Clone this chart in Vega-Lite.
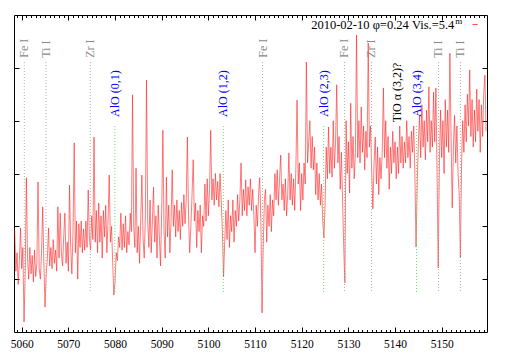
{
  "$schema": "https://vega.github.io/schema/vega-lite/v6.json",
  "width": 473,
  "height": 317,
  "autosize": {"type": "none"},
  "padding": {"left": 14, "top": 15, "right": 22, "bottom": 24},
  "background": "white",
  "config": {
    "view": {"stroke": "#000000", "strokeWidth": 1},
    "font": "Liberation Serif",
    "axis": {"grid": false, "domain": false, "title": null, "tickColor": "#000000", "labelColor": "#000000", "labelFont": "Liberation Serif"}
  },
  "datasets": {
    "spec": [
      {"wl":5058.5,"flux":1.93},{"wl":5058.75,"flux":1.15},{"wl":5059,"flux":1.5},{"wl":5059.25,"flux":0.9},{"wl":5059.5,"flux":1.35},{"wl":5059.75,"flux":1.97},
      {"wl":5060,"flux":1.2},{"wl":5060.25,"flux":1.6},{"wl":5060.5,"flux":0.19},{"wl":5060.75,"flux":1.1},
      {"wl":5061,"flux":2.92},{"wl":5061.25,"flux":1.4},{"wl":5061.5,"flux":1.0},{"wl":5061.75,"flux":1.6},
      {"wl":5062,"flux":1.1},{"wl":5062.25,"flux":1.45},{"wl":5062.5,"flux":0.95},{"wl":5062.75,"flux":1.55},
      {"wl":5063,"flux":1.05},{"wl":5063.25,"flux":1.3},{"wl":5063.5,"flux":2.84},{"wl":5063.75,"flux":1.2},
      {"wl":5064,"flux":1.0},{"wl":5064.25,"flux":1.5},{"wl":5064.5,"flux":2.37},{"wl":5064.75,"flux":1.3},
      {"wl":5065,"flux":0.47},{"wl":5065.25,"flux":1.1},{"wl":5065.5,"flux":1.4},{"wl":5065.75,"flux":1.97},
      {"wl":5066,"flux":1.25},{"wl":5066.25,"flux":1.6},{"wl":5066.5,"flux":1.2},{"wl":5066.75,"flux":1.75},
      {"wl":5067,"flux":1.3},{"wl":5067.25,"flux":1.55},{"wl":5067.5,"flux":1.15},{"wl":5067.75,"flux":2.37},
      {"wl":5068,"flux":1.4},{"wl":5068.25,"flux":2.25},{"wl":5068.5,"flux":1.5},{"wl":5068.75,"flux":1.25},
      {"wl":5069,"flux":1.8},{"wl":5069.25,"flux":2.25},{"wl":5069.5,"flux":1.3},{"wl":5069.75,"flux":1.7},
      {"wl":5070,"flux":1.15},{"wl":5070.25,"flux":2.78},{"wl":5070.5,"flux":1.6},{"wl":5070.75,"flux":1.1},
      {"wl":5071,"flux":1.9},{"wl":5071.25,"flux":3.58},{"wl":5071.5,"flux":1.5},{"wl":5071.75,"flux":2.1},
      {"wl":5072,"flux":1.0},{"wl":5072.25,"flux":2.05},{"wl":5072.5,"flux":1.6},{"wl":5072.75,"flux":2.1},
      {"wl":5073,"flux":1.5},{"wl":5073.25,"flux":1.95},{"wl":5073.5,"flux":1.55},{"wl":5073.75,"flux":2.1},
      {"wl":5074,"flux":1.6},{"wl":5074.25,"flux":2.69},{"wl":5074.5,"flux":1.8},{"wl":5074.75,"flux":1.55},
      {"wl":5075,"flux":2.2},{"wl":5075.25,"flux":1.75},{"wl":5075.5,"flux":3.69},{"wl":5075.75,"flux":1.7},
      {"wl":5076,"flux":2.3},{"wl":5076.25,"flux":1.5},{"wl":5076.5,"flux":2.44},{"wl":5076.75,"flux":1.7},
      {"wl":5077,"flux":2.2},{"wl":5077.25,"flux":1.4},{"wl":5077.5,"flux":2.3},{"wl":5077.75,"flux":1.8},
      {"wl":5078,"flux":2.4},{"wl":5078.25,"flux":1.5},{"wl":5078.5,"flux":2.1},{"wl":5078.75,"flux":2.97},
      {"wl":5079,"flux":1.7},{"wl":5079.25,"flux":2.0},{"wl":5079.5,"flux":1.3},{"wl":5079.75,"flux":0.7},
      {"wl":5080,"flux":0.95},{"wl":5080.25,"flux":1.5},{"wl":5080.5,"flux":1.35},{"wl":5080.75,"flux":1.8},
      {"wl":5081,"flux":1.6},{"wl":5081.25,"flux":2.25},{"wl":5081.5,"flux":1.55},{"wl":5081.75,"flux":2.05},
      {"wl":5082,"flux":1.6},{"wl":5082.25,"flux":2.2},{"wl":5082.5,"flux":1.5},{"wl":5082.75,"flux":1.9},
      {"wl":5083,"flux":1.65},{"wl":5083.25,"flux":2.25},{"wl":5083.5,"flux":1.9},{"wl":5083.75,"flux":4.49},
      {"wl":5084,"flux":2.0},{"wl":5084.25,"flux":1.6},{"wl":5084.5,"flux":3.1},{"wl":5084.75,"flux":1.5},
      {"wl":5085,"flux":2.0},{"wl":5085.25,"flux":1.3},{"wl":5085.5,"flux":2.1},{"wl":5085.75,"flux":2.97},
      {"wl":5086,"flux":1.8},{"wl":5086.25,"flux":1.4},{"wl":5086.5,"flux":2.2},{"wl":5086.75,"flux":4.77},
      {"wl":5087,"flux":2.1},{"wl":5087.25,"flux":1.6},{"wl":5087.5,"flux":2.5},{"wl":5087.75,"flux":1.5},
      {"wl":5088,"flux":2.1},{"wl":5088.25,"flux":2.74},{"wl":5088.5,"flux":1.7},{"wl":5088.75,"flux":2.2},
      {"wl":5089,"flux":1.4},{"wl":5089.25,"flux":2.4},{"wl":5089.5,"flux":1.8},{"wl":5089.75,"flux":1.25},
      {"wl":5090,"flux":2.3},{"wl":5090.25,"flux":3.82},{"wl":5090.5,"flux":1.9},{"wl":5090.75,"flux":1.4},
      {"wl":5091,"flux":2.93},{"wl":5091.25,"flux":1.8},{"wl":5091.5,"flux":2.4},{"wl":5091.75,"flux":1.5},
      {"wl":5092,"flux":2.1},{"wl":5092.25,"flux":3.07},{"wl":5092.5,"flux":2.0},{"wl":5092.75,"flux":2.4},
      {"wl":5093,"flux":1.8},{"wl":5093.25,"flux":2.5},{"wl":5093.5,"flux":1.9},{"wl":5093.75,"flux":2.3},
      {"wl":5094,"flux":1.75},{"wl":5094.25,"flux":2.45},{"wl":5094.5,"flux":2.0},{"wl":5094.75,"flux":2.6},
      {"wl":5095,"flux":2.05},{"wl":5095.25,"flux":2.5},{"wl":5095.5,"flux":3.69},{"wl":5095.75,"flux":2.2},
      {"wl":5096,"flux":1.5},{"wl":5096.25,"flux":2.0},{"wl":5096.5,"flux":2.6},{"wl":5096.75,"flux":3.26},
      {"wl":5097,"flux":2.1},{"wl":5097.25,"flux":2.44},{"wl":5097.5,"flux":1.6},{"wl":5097.75,"flux":2.3},
      {"wl":5098,"flux":1.9},{"wl":5098.25,"flux":2.4},{"wl":5098.5,"flux":1.5},{"wl":5098.75,"flux":2.2},
      {"wl":5099,"flux":2.0},{"wl":5099.25,"flux":2.8},{"wl":5099.5,"flux":2.1},{"wl":5099.75,"flux":2.9},
      {"wl":5100,"flux":2.2},{"wl":5100.25,"flux":2.7},{"wl":5100.5,"flux":3.82},{"wl":5100.75,"flux":2.5},
      {"wl":5101,"flux":2.9},{"wl":5101.25,"flux":2.4},{"wl":5101.5,"flux":3.0},{"wl":5101.75,"flux":2.5},
      {"wl":5102,"flux":2.85},{"wl":5102.25,"flux":2.37},{"wl":5102.5,"flux":3.0},{"wl":5102.75,"flux":2.5},
      {"wl":5103,"flux":1.9},{"wl":5103.25,"flux":1.04},{"wl":5103.5,"flux":1.7},{"wl":5103.75,"flux":2.3},
      {"wl":5104,"flux":1.75},{"wl":5104.25,"flux":2.5},{"wl":5104.5,"flux":1.6},{"wl":5104.75,"flux":2.2},
      {"wl":5105,"flux":1.9},{"wl":5105.25,"flux":2.5},{"wl":5105.5,"flux":1.7},{"wl":5105.75,"flux":2.3},
      {"wl":5106,"flux":2.0},{"wl":5106.25,"flux":2.6},{"wl":5106.5,"flux":2.1},{"wl":5106.75,"flux":2.5},
      {"wl":5107,"flux":3.2},{"wl":5107.25,"flux":2.2},{"wl":5107.5,"flux":2.7},{"wl":5107.75,"flux":2.3},
      {"wl":5108,"flux":2.88},{"wl":5108.25,"flux":2.2},{"wl":5108.5,"flux":2.75},{"wl":5108.75,"flux":2.4},
      {"wl":5109,"flux":2.9},{"wl":5109.25,"flux":2.3},{"wl":5109.5,"flux":2.7},{"wl":5109.75,"flux":2.2},
      {"wl":5110,"flux":1.5},{"wl":5110.25,"flux":2.4},{"wl":5110.5,"flux":2.0},{"wl":5110.75,"flux":2.6},
      {"wl":5111,"flux":2.92},{"wl":5111.25,"flux":2.1},{"wl":5111.5,"flux":0.36},{"wl":5111.75,"flux":1.6},
      {"wl":5112,"flux":2.5},{"wl":5112.25,"flux":2.7},{"wl":5112.5,"flux":1.7},{"wl":5112.75,"flux":2.4},
      {"wl":5113,"flux":2.0},{"wl":5113.25,"flux":2.6},{"wl":5113.5,"flux":1.9},{"wl":5113.75,"flux":2.5},
      {"wl":5114,"flux":2.2},{"wl":5114.25,"flux":3.0},{"wl":5114.5,"flux":2.5},{"wl":5114.75,"flux":3.07},
      {"wl":5115,"flux":2.4},{"wl":5115.25,"flux":2.9},{"wl":5115.5,"flux":3.35},{"wl":5115.75,"flux":2.5},
      {"wl":5116,"flux":2.8},{"wl":5116.25,"flux":2.3},{"wl":5116.5,"flux":2.9},{"wl":5116.75,"flux":2.2},
      {"wl":5117,"flux":2.6},{"wl":5117.25,"flux":3.39},{"wl":5117.5,"flux":2.5},{"wl":5117.75,"flux":3.0},
      {"wl":5118,"flux":2.4},{"wl":5118.25,"flux":2.9},{"wl":5118.5,"flux":2.3},{"wl":5118.75,"flux":3.1},
      {"wl":5119,"flux":4.39},{"wl":5119.25,"flux":2.8},{"wl":5119.5,"flux":3.2},{"wl":5119.75,"flux":2.3},
      {"wl":5120,"flux":3.0},{"wl":5120.25,"flux":2.5},{"wl":5120.5,"flux":3.2},{"wl":5120.75,"flux":2.8},
      {"wl":5121,"flux":5.11},{"wl":5121.25,"flux":3.2},{"wl":5121.5,"flux":3.6},{"wl":5121.75,"flux":4.0},
      {"wl":5122,"flux":3.1},{"wl":5122.25,"flux":3.7},{"wl":5122.5,"flux":3.07},{"wl":5122.75,"flux":3.5},
      {"wl":5123,"flux":2.6},{"wl":5123.25,"flux":3.2},{"wl":5123.5,"flux":2.5},{"wl":5123.75,"flux":3.0},
      {"wl":5124,"flux":2.4},{"wl":5124.25,"flux":2.8},{"wl":5124.5,"flux":2.1},{"wl":5124.75,"flux":1.78},
      {"wl":5125,"flux":2.4},{"wl":5125.25,"flux":3.5},{"wl":5125.5,"flux":2.9},{"wl":5125.75,"flux":3.88},
      {"wl":5126,"flux":3.0},{"wl":5126.25,"flux":3.5},{"wl":5126.5,"flux":2.93},{"wl":5126.75,"flux":4.0},
      {"wl":5127,"flux":3.1},{"wl":5127.25,"flux":3.6},{"wl":5127.5,"flux":4.68},{"wl":5127.75,"flux":3.2},
      {"wl":5128,"flux":3.7},{"wl":5128.25,"flux":2.7},{"wl":5128.5,"flux":3.4},{"wl":5128.75,"flux":2.5},
      {"wl":5129,"flux":1.6},{"wl":5129.25,"flux":0.93},{"wl":5129.5,"flux":4.0},{"wl":5129.75,"flux":3.0},
      {"wl":5130,"flux":3.6},{"wl":5130.25,"flux":2.63},{"wl":5130.5,"flux":4.33},{"wl":5130.75,"flux":3.1},
      {"wl":5131,"flux":3.7},{"wl":5131.25,"flux":2.9},{"wl":5131.5,"flux":3.4},{"wl":5131.75,"flux":5.62},
      {"wl":5132,"flux":3.3},{"wl":5132.25,"flux":4.0},{"wl":5132.5,"flux":3.2},{"wl":5132.75,"flux":4.26},
      {"wl":5133,"flux":3.4},{"wl":5133.25,"flux":3.9},{"wl":5133.5,"flux":3.07},{"wl":5133.75,"flux":3.8},
      {"wl":5134,"flux":3.3},{"wl":5134.25,"flux":5.47},{"wl":5134.5,"flux":3.5},{"wl":5134.75,"flux":3.9},
      {"wl":5135,"flux":3.0},{"wl":5135.25,"flux":2.33},{"wl":5135.5,"flux":3.2},{"wl":5135.75,"flux":3.69},
      {"wl":5136,"flux":2.8},{"wl":5136.25,"flux":3.5},{"wl":5136.5,"flux":2.6},{"wl":5136.75,"flux":3.3},
      {"wl":5137,"flux":2.9},{"wl":5137.25,"flux":3.4},{"wl":5137.5,"flux":4.62},{"wl":5137.75,"flux":3.3},
      {"wl":5138,"flux":4.0},{"wl":5138.25,"flux":3.1},{"wl":5138.5,"flux":3.7},{"wl":5138.75,"flux":2.7},
      {"wl":5139,"flux":3.5},{"wl":5139.25,"flux":3.0},{"wl":5139.5,"flux":3.8},{"wl":5139.75,"flux":3.2},
      {"wl":5140,"flux":3.6},{"wl":5140.25,"flux":2.9},{"wl":5140.5,"flux":3.5},{"wl":5140.75,"flux":3.0},
      {"wl":5141,"flux":3.9},{"wl":5141.25,"flux":3.2},{"wl":5141.5,"flux":3.7},{"wl":5141.75,"flux":3.1},
      {"wl":5142,"flux":3.6},{"wl":5142.25,"flux":3.2},{"wl":5142.5,"flux":4.0},{"wl":5142.75,"flux":3.3},
      {"wl":5143,"flux":3.7},{"wl":5143.25,"flux":3.1},{"wl":5143.5,"flux":3.8},{"wl":5143.75,"flux":3.4},
      {"wl":5144,"flux":3.9},{"wl":5144.25,"flux":3.0},{"wl":5144.5,"flux":1.61},{"wl":5144.75,"flux":2.8},
      {"wl":5145,"flux":3.6},{"wl":5145.25,"flux":4.1},{"wl":5145.5,"flux":3.3},{"wl":5145.75,"flux":4.3},
      {"wl":5146,"flux":3.5},{"wl":5146.25,"flux":4.0},{"wl":5146.5,"flux":3.26},{"wl":5146.75,"flux":4.2},
      {"wl":5147,"flux":3.6},{"wl":5147.25,"flux":4.64},{"wl":5147.5,"flux":3.4},{"wl":5147.75,"flux":4.0},
      {"wl":5148,"flux":3.5},{"wl":5148.25,"flux":4.54},{"wl":5148.5,"flux":3.6},{"wl":5148.75,"flux":4.62},
      {"wl":5149,"flux":3.0},{"wl":5149.25,"flux":1.21},{"wl":5149.5,"flux":3.2},{"wl":5149.75,"flux":4.2},
      {"wl":5150,"flux":3.3},{"wl":5150.25,"flux":4.0},{"wl":5150.5,"flux":3.0},{"wl":5150.75,"flux":4.4},
      {"wl":5151,"flux":3.5},{"wl":5151.25,"flux":4.2},{"wl":5151.5,"flux":3.4},{"wl":5151.75,"flux":5.28},
      {"wl":5152,"flux":3.7},{"wl":5152.25,"flux":2.35},{"wl":5152.5,"flux":3.5},{"wl":5152.75,"flux":4.1},
      {"wl":5153,"flux":3.2},{"wl":5153.25,"flux":3.9},{"wl":5153.5,"flux":3.0},{"wl":5153.75,"flux":2.6},
      {"wl":5154,"flux":1.4},{"wl":5154.25,"flux":3.2},{"wl":5154.5,"flux":4.0},{"wl":5154.75,"flux":3.4},
      {"wl":5155,"flux":4.3},{"wl":5155.25,"flux":3.6},{"wl":5155.5,"flux":4.5},{"wl":5155.75,"flux":3.9},
      {"wl":5156,"flux":4.96},{"wl":5156.25,"flux":3.7},{"wl":5156.5,"flux":4.4},{"wl":5156.75,"flux":3.5},
      {"wl":5157,"flux":4.2},{"wl":5157.25,"flux":3.6},{"wl":5157.5,"flux":4.6},{"wl":5157.75,"flux":3.8},
      {"wl":5158,"flux":4.4},{"wl":5158.25,"flux":3.4},{"wl":5158.5,"flux":4.3},{"wl":5158.75,"flux":3.7},
      {"wl":5159,"flux":4.5},{"wl":5159.25,"flux":4.86},{"wl":5159.5,"flux":3.8}
    ],
    "ids": [
      {"wl":5060.56,"label":"Fe I","kind":"atom","ytop":5.11,"ybot":0.74,"ylab":5.19},
      {"wl":5065.2,"label":"Ti I","kind":"atom","ytop":5.11,"ybot":0.74,"ylab":5.19},
      {"wl":5074.7,"label":"Zr I","kind":"atom","ytop":5.11,"ybot":0.74,"ylab":5.19},
      {"wl":5079.95,"label":"AlO (0,1)","kind":"AlO","ytop":3.9,"ybot":0.74,"ylab":4.07},
      {"wl":5103.2,"label":"AlO (1,2)","kind":"AlO","ytop":3.9,"ybot":0.74,"ylab":4.07},
      {"wl":5111.6,"label":"Fe I","kind":"atom","ytop":5.11,"ybot":0.74,"ylab":5.19},
      {"wl":5124.7,"label":"AlO (2,3)","kind":"AlO","ytop":3.9,"ybot":0.74,"ylab":4.07},
      {"wl":5129.15,"label":"Fe I","kind":"atom","ytop":5.11,"ybot":0.74,"ylab":5.19},
      {"wl":5134.95,"label":"Zr I","kind":"atom","ytop":5.11,"ybot":0.74,"ylab":5.19},
      {"wl":5140.35,"label":"TiO α (3,2)?","kind":"TiO","ytop":null,"ybot":null,"ylab":3.97},
      {"wl":5144.6,"label":"AlO (3,4)","kind":"AlO","ytop":3.9,"ybot":0.74,"ylab":4.07},
      {"wl":5149.3,"label":"Ti I","kind":"atom","ytop":5.11,"ybot":0.74,"ylab":5.19},
      {"wl":5154.0,"label":"Ti I","kind":"atom","ytop":5.11,"ybot":0.74,"ylab":5.19}
    ],
    "key": [
      {"wl":5152.7,"wl2":5157.7,"wls":5156.6,"flux":5.82,"label":"2010-02-10 φ=0.24 Vis.=5.4","sup":"m"}
    ]
  },
  "layer": [
    {
      "data": {"name": "spec"},
      "mark": {"type": "line", "stroke": "#ff2020", "strokeWidth": 0.7, "strokeOpacity": 0.85, "clip": true},
      "encoding": {
        "x": {"field": "wl", "type": "quantitative", "scale": {"domain": [5058.35, 5159.7], "nice": false, "zero": false},
              "axis": {"orient": "bottom", "values": [5060,5070,5080,5090,5100,5110,5120,5130,5140,5150], "tickSize": -5, "labelFontSize": 11.5, "labelPadding": 11, "format": "d"}},
        "y": {"field": "flux", "type": "quantitative", "scale": {"domain": [0, 6], "nice": false, "zero": false},
              "axis": {"orient": "left", "values": [1,2,3,4,5], "labels": false, "tickSize": -5}}
      }
    },
    {
      "data": {"name": "ids"},
      "transform": [{"filter": "datum.ybot != null"}],
      "mark": {"type": "rule", "strokeDash": [1, 2], "strokeWidth": 1},
      "encoding": {
        "x": {"field": "wl", "type": "quantitative",
              "axis": {"orient": "top", "values": [5060,5070,5080,5090,5100,5110,5120,5130,5140,5150], "labels": false, "tickSize": -5}},
        "y": {"field": "ytop", "type": "quantitative",
              "axis": {"orient": "right", "values": [1,2,3,4,5], "labels": false, "tickSize": -5}},
        "y2": {"field": "ybot"},
        "stroke": {"field": "kind", "type": "nominal", "scale": {"domain": ["atom", "AlO"], "range": ["#b0b0b0", "#66dd66"]}, "legend": null}
      }
    },
    {
      "data": {"name": "ids"},
      "mark": {"type": "text", "angle": 270, "align": "left", "baseline": "middle", "font": "Liberation Serif", "fontSize": 12},
      "encoding": {
        "x": {"field": "wl", "type": "quantitative",
              "axis": {"orient": "bottom", "values": [5059,5061,5062,5063,5064,5065,5066,5067,5068,5069,5071,5072,5073,5074,5075,5076,5077,5078,5079,5081,5082,5083,5084,5085,5086,5087,5088,5089,5091,5092,5093,5094,5095,5096,5097,5098,5099,5101,5102,5103,5104,5105,5106,5107,5108,5109,5111,5112,5113,5114,5115,5116,5117,5118,5119,5121,5122,5123,5124,5125,5126,5127,5128,5129,5131,5132,5133,5134,5135,5136,5137,5138,5139,5141,5142,5143,5144,5145,5146,5147,5148,5149,5151,5152,5153,5154,5155,5156,5157,5158,5159], "labels": false, "tickSize": -2.5}},
        "y": {"field": "ylab", "type": "quantitative", "axis": null},
        "text": {"field": "label"},
        "fill": {"field": "kind", "type": "nominal", "scale": {"domain": ["atom", "AlO", "TiO"], "range": ["#8a8a8a", "#0000ff", "#000000"]}, "legend": null}
      }
    },
    {
      "data": {"name": "key"},
      "mark": {"type": "text", "align": "right", "baseline": "middle", "font": "Liberation Serif", "fontSize": 12.5, "color": "#000000"},
      "encoding": {
        "x": {"field": "wl", "type": "quantitative",
              "axis": {"orient": "top", "values": [5059,5061,5062,5063,5064,5065,5066,5067,5068,5069,5071,5072,5073,5074,5075,5076,5077,5078,5079,5081,5082,5083,5084,5085,5086,5087,5088,5089,5091,5092,5093,5094,5095,5096,5097,5098,5099,5101,5102,5103,5104,5105,5106,5107,5108,5109,5111,5112,5113,5114,5115,5116,5117,5118,5119,5121,5122,5123,5124,5125,5126,5127,5128,5129,5131,5132,5133,5134,5135,5136,5137,5138,5139,5141,5142,5143,5144,5145,5146,5147,5148,5149,5151,5152,5153,5154,5155,5156,5157,5158,5159], "labels": false, "tickSize": -2.5}},
        "y": {"field": "flux", "type": "quantitative", "axis": null},
        "text": {"field": "label"}
      }
    },
    {
      "data": {"name": "key"},
      "mark": {"type": "text", "align": "left", "baseline": "middle", "dy": -4, "dx": 1, "font": "Liberation Serif", "fontSize": 9, "color": "#000000"},
      "encoding": {
        "x": {"field": "wl", "type": "quantitative", "axis": null},
        "y": {"field": "flux", "type": "quantitative", "axis": null},
        "text": {"field": "sup"}
      }
    },
    {
      "data": {"name": "key"},
      "mark": {"type": "rule", "stroke": "#ff2020", "strokeWidth": 0.8},
      "encoding": {
        "x": {"field": "wls", "type": "quantitative", "axis": null},
        "x2": {"field": "wl2"},
        "y": {"field": "flux", "type": "quantitative", "axis": null}
      }
    }
  ],
  "resolve": {"axis": {"x": "independent", "y": "independent"}}
}
